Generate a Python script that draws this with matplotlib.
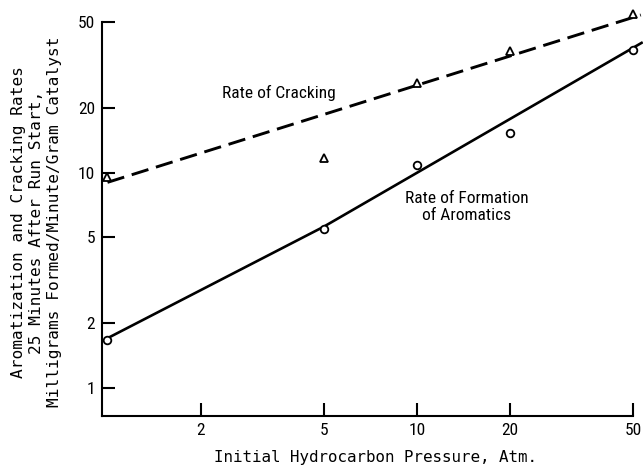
import matplotlib
matplotlib.use("Agg")
import matplotlib.pyplot as plt
from matplotlib import font_manager
from matplotlib.ticker import FixedLocator, NullLocator, FixedFormatter

# Data
pressure = [1, 5, 10, 20, 50]
cracking_rate = [9.5, 11.7, 26.1, 36.7, 54.5]
aromatics_rate = [1.67, 5.45, 10.8, 15.3, 37.1]

# Fitted lines as drawn on the chart
crack_fit_x = [1.0, 53.0]
crack_fit_y = [9.0, 53.9]
arom_fit_x = [1.0, 5.0, 53.3]
arom_fit_y = [1.70, 5.6, 40.0]

x_ticks = [2, 5, 10, 20, 50]
x_tick_labels = ["2", "5", "10", "20", "50"]
y_ticks = [1, 2, 5, 10, 20, 50]
y_tick_labels = ["1", "2", "5", "10", "20", "50"]

# pick a condensed sans if one is installed
_names = {f.name for f in font_manager.fontManager.ttflist}
_cond = None
for cand in ["Liberation Sans Narrow", "Roboto Condensed", "Open Sans Condensed",
             "DejaVu Sans Condensed", "Noto Sans Condensed", "Arial Narrow"]:
    if cand in _names:
        _cond = cand
        break
if _cond is None:
    for n in sorted(_names):
        if "Narrow" in n or "Condensed" in n:
            _cond = n
            break
narrow = ([_cond] if _cond else []) + ["Liberation Sans", "DejaVu Sans"]
narrow_size = 12.5 if _cond else 10.5
mono = ["DejaVu Sans Mono", "DejaVu Sans"]

fig = plt.figure(figsize=(6.43, 4.65), dpi=100)
ax = fig.add_axes([102/643, 1-416/465, (633-102)/643, (416-22)/465])
ax.set_xscale("log")
ax.set_yscale("log")
ax.set_xlim(0.96, 50)
ax.set_ylim(0.74, 50)

ax.plot(crack_fit_x, crack_fit_y, color="black", lw=2.1, ls=(0, (6.0, 2.7)),
        clip_on=False, dash_capstyle="butt")
ax.plot(arom_fit_x, arom_fit_y, color="black", lw=1.9, clip_on=False)
ax.plot(pressure, cracking_rate, ls="none", marker="^", ms=5.6, mfc="white",
        mec="black", mew=1.3, clip_on=False, zorder=5)
ax.plot(pressure, aromatics_rate, ls="none", marker="o", ms=5.5, mfc="white",
        mec="black", mew=1.3, clip_on=False, zorder=5)

for s in ("top", "right"):
    ax.spines[s].set_visible(False)
for s in ("left", "bottom"):
    ax.spines[s].set_linewidth(1.5)

ax.xaxis.set_major_locator(FixedLocator(x_ticks))
ax.xaxis.set_major_formatter(FixedFormatter(x_tick_labels))
ax.yaxis.set_major_locator(FixedLocator(y_ticks))
ax.yaxis.set_major_formatter(FixedFormatter(y_tick_labels))
ax.xaxis.set_minor_locator(NullLocator())
ax.yaxis.set_minor_locator(NullLocator())
ax.tick_params(direction="in", length=9.5, width=1.5)
ax.tick_params(axis="y", pad=5)
ax.tick_params(axis="x", pad=5)
for lab in ax.get_xticklabels() + ax.get_yticklabels():
    lab.set_fontfamily(narrow)
    lab.set_fontstretch("condensed")
    lab.set_fontsize(narrow_size)

ax.text(3.57, 23.5, "Rate of Cracking", family=narrow, fontsize=narrow_size,
        fontstretch="condensed", ha="center", va="center")
ax.text(14.5, 6.92, "Rate of Formation\nof Aromatics", family=narrow,
        fontsize=narrow_size, fontstretch="condensed", ha="center",
        va="center", multialignment="center", linespacing=1.15)

ylabel_lines = ["Aromatization and Cracking Rates",
                "25 Minutes After Run Start,",
                "Milligrams Formed/Minute/Gram Catalyst"]
for xpix, line in zip([23, 41, 59], ylabel_lines):
    fig.text(xpix/643, 1-222/465, line, family=mono, fontsize=11.6,
             rotation=90, rotation_mode="anchor", ha="center", va="baseline")

fig.text(375/643, 1-462/465, "Initial Hydrocarbon Pressure, Atm.",
         family=mono, fontsize=11.4, ha="center", va="baseline")

fig.savefig("out.png", dpi=100)
